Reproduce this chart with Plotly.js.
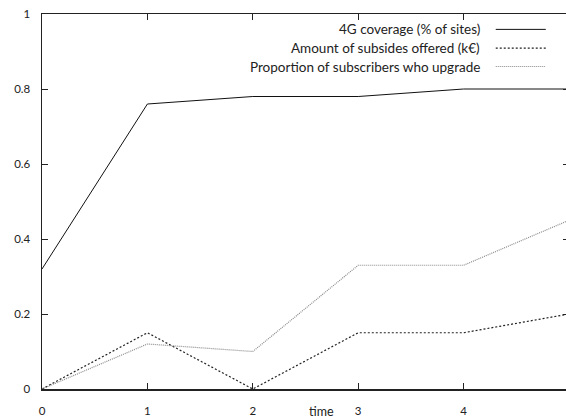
<!DOCTYPE html>
<html>
<head>
<meta charset="utf-8">
<script src="https://cdn.plot.ly/plotly-3.0.1.min.js"></script>
<style>
html, body { margin: 0; padding: 0; overflow: hidden; background: #fff; }
#chart { width: 569px; height: 420px; }
</style>
</head>
<body>
<div id="chart"></div>
<script>
const time = [0, 1, 2, 3, 4, 5];
const seriesNames = ["4G coverage (% of sites)", "Amount of subsides offered (k€)", "Proportion of subscribers who upgrade"];
const coverage = [0.32, 0.76, 0.78, 0.78, 0.80, 0.80];
const subsidies = [0.00, 0.15, 0.00, 0.15, 0.15, 0.20];
const upgrade = [0.00, 0.12, 0.10, 0.33, 0.33, 0.45];
const xTicks = [0, 1, 2, 3, 4];
const yTicks = [0, 0.2, 0.4, 0.6, 0.8, 1];
const yTickLabels = ["0", "0.2", "0.4", "0.6", "0.8", "1"];

const styles = [
  {color: "#111111", dash: "solid", width: 1},
  {color: "#222222", dash: "2px,2px", width: 1.2},
  {color: "#8a8a8a", dash: "1px,1px", width: 1.2}
];
const values = [coverage, subsidies, upgrade];

const traces = values.map((v, i) => ({
  x: time, y: v, type: "scatter", mode: "lines", name: seriesNames[i],
  line: styles[i], showlegend: false, hoverinfo: "skip"
}));

const legendY = [0.959, 0.909, 0.860];
const annotations = seriesNames.map((n, i) => ({
  xref: "paper", yref: "paper", x: 0.835, y: legendY[i],
  xanchor: "right", yanchor: "middle", text: n, showarrow: false,
  font: {family: "Lato, sans-serif", size: 13.5, color: "#222"}
}));
annotations.push({
  xref: "paper", yref: "paper", x: 0.53, y: -0.061,
  xanchor: "center", yanchor: "middle", text: "time", showarrow: false,
  font: {family: "Lato, sans-serif", size: 12.5, color: "#222"}
});
const shapes = seriesNames.map((n, i) => ({
  type: "line", xref: "paper", yref: "paper",
  x0: 0.861, x1: 0.956, y0: legendY[i], y1: legendY[i],
  line: styles[i]
}));

const layout = {
  width: 569, height: 420,
  margin: {l: 42, r: 0, t: 14, b: 31},
  paper_bgcolor: "#fff", plot_bgcolor: "#fff",
  font: {family: "Lato, sans-serif", size: 11.5, color: "#222"},
  showlegend: false,
  xaxis: {
    range: [0, 5], tickvals: xTicks, ticktext: xTicks.map(String),
    ticks: "inside", ticklen: 6, tickwidth: 1, tickcolor: "#222",
    showline: true, linecolor: "#222", linewidth: 1.5, mirror: "ticks",
    showgrid: false, zeroline: false, ticklabelstandoff: 11
  },
  yaxis: {
    range: [0, 1], tickvals: yTicks, ticktext: yTickLabels,
    ticks: "inside", ticklen: 6, tickwidth: 1, tickcolor: "#222",
    showline: true, linecolor: "#222", linewidth: 1.5, mirror: "ticks",
    showgrid: false, zeroline: false, ticklabelstandoff: 8
  },
  annotations: annotations,
  shapes: shapes
};

Plotly.newPlot("chart", traces, layout, {staticPlot: true, displayModeBar: false});
</script>
</body>
</html>
